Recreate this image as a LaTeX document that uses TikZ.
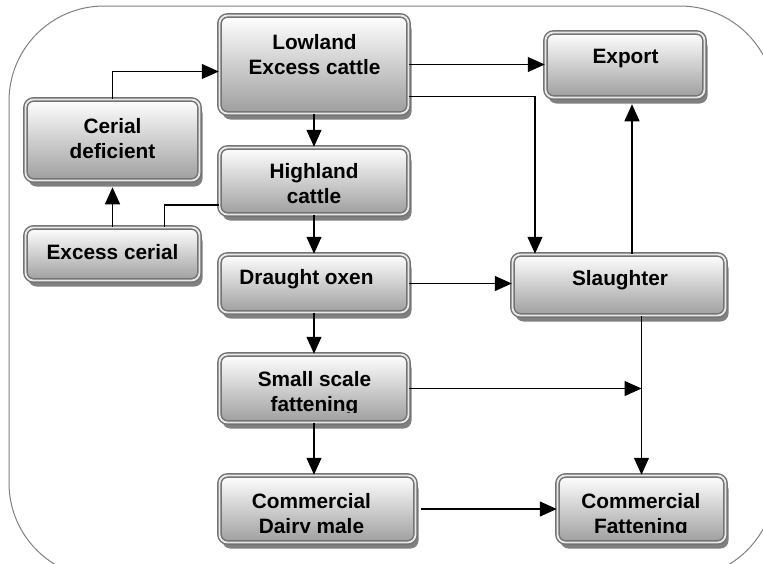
\documentclass[tikz,border=0pt]{standalone}
\usepackage{fontspec}
\setmainfont{Liberation Sans}
\usetikzlibrary{arrows.meta,shadows,calc}
\definecolor{boxedge}{HTML}{747474}
\definecolor{boxgap}{HTML}{E8E8E8}
\definecolor{boxbot}{HTML}{9E9E9E}
\definecolor{shadowgray}{HTML}{808080}
\definecolor{framecol}{HTML}{808080}
\begin{document}
\begin{tikzpicture}[x=1pt,y=-1pt,
  box/.style={draw=boxedge, double=boxgap, line width=1.5pt, double distance=1.8pt,
    rounded corners=8pt, top color=white, bottom color=boxbot, inner sep=0pt,
    drop shadow={shadow xshift=3pt, shadow yshift=-6pt, fill=shadowgray, opacity=1, sharp corners}},
  txt/.style={font=\bfseries\fontsize{20.8}{25}\selectfont, align=center, inner sep=0pt, text=black},
  arr/.style={-{Triangle[length=17pt,width=15pt]}, line width=1.3pt},
  ln/.style={line width=1.3pt}]
\useasboundingbox (0,0) rectangle (763,563);
\clip (0,0) rectangle (763,563);
\draw[framecol, line width=1pt, rounded corners=95pt] (9,6) rectangle (775,578);

% boxes
\node[box, minimum width=189pt, minimum height=98pt] (low) at (314,64.5) {};
\node[box, minimum width=159pt, minimum height=65pt] (exp) at (625,65) {};
\node[box, minimum width=174pt, minimum height=81pt] (cer) at (112.5,140) {};
\node[box, minimum width=189pt, minimum height=67pt] (high) at (314,181) {};
\node[box, minimum width=174pt, minimum height=53pt] (exc) at (112.5,254) {};
\node[box, minimum width=189pt, minimum height=58pt] (dra) at (314,283.5) {};
\node[box, minimum width=213pt, minimum height=61pt] (sla) at (619,285) {};
\node[box, minimum width=189pt, minimum height=68pt] (sma) at (314,388.5) {};
\node[box, minimum width=196pt, minimum height=67pt] (dai) at (317.5,509) {};
\node[box, minimum width=168pt, minimum height=67pt] (fat) at (641.5,509) {};

% texts (clipped to the box interior, as in the reference)
\node[txt] (lowT) at (314.5,55) {Lowland\\Excess cattle};
\node[txt] (expT) at (625.5,58.5) {Export};
\node[txt] (cerT) at (112.5,138.5) {Cerial\\deficient};
\begin{scope}
  \clip ([yshift=11pt]high.south west) rectangle (high.north east);
  \node[txt] (highT) at (314,183.5) {Highland\\cattle};
\end{scope}
\node[txt] (excT) at (112.5,252.5) {Excess cerial};
\node[txt] (draT) at (306.5,279) {Draught oxen};
\node[txt] (slaT) at (620,280.5) {Slaughter};
\begin{scope}
  \clip ([yshift=11pt]sma.south west) rectangle (sma.north east);
  \node[txt] (smaT) at (314.5,394) {Small scale\\fattening};
\end{scope}
\begin{scope}
  \clip ([yshift=11pt]dai.south west) rectangle (dai.north east);
  \node[txt] (daiT) at (311.5,516) {Commercial\\Dairy male};
\end{scope}
\begin{scope}
  \clip ([yshift=11pt]fat.south west) rectangle (fat.north east);
  \node[txt] (fatT) at (641,516) {Commercial\\Fattening};
\end{scope}

% connectors
\draw[arr] (cer.north) |- ([yshift=-7pt]low.west);
\draw[arr] (low.south) -- (high.north);
\draw[arr, shorten >=6pt] (exc.north) -- (cer.south);
\draw[ln] ([xshift=52pt]exc.north) |- ([yshift=-24pt]high.west);
\draw[arr] (high.south) -- (dra.north);
\draw[arr] (low.east) -- (low.east -| exp.west);
\draw[arr] ([yshift=-32pt]low.east) -| ([xshift=-84pt]sla.north);
\draw[arr] (dra.east) -- (dra.east -| sla.west);
\draw[arr] (dra.south) -- (sma.north);
\draw[arr, shorten >=6pt] ([xshift=13pt]sla.north) -- ([xshift=13pt]sla.north |- exp.south);
\draw[arr] (fat.north |- sla.south) -- (fat.north);
\draw[arr] (sma.east) -- (sma.east -| fat.north);
\draw[arr] (sma.south) -- (sma.south |- dai.north);
\draw[arr, shorten <=5pt] (dai.east) -- (dai.east -| fat.west);
\end{tikzpicture}
\end{document}
